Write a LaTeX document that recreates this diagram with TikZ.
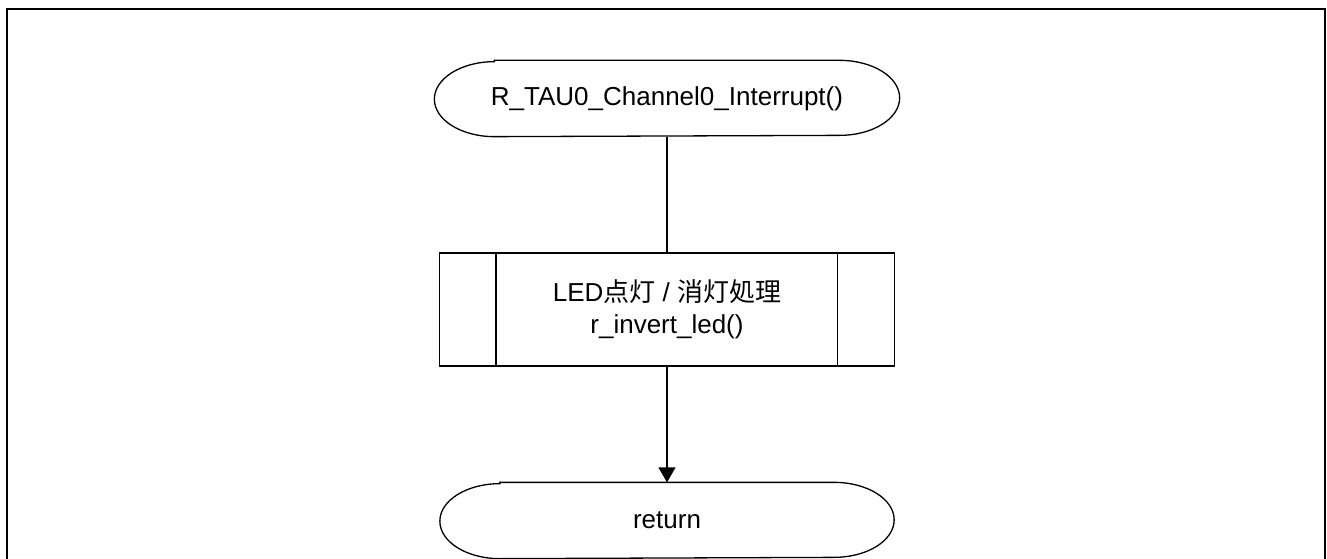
\documentclass[tikz,border=0pt]{standalone}
\usepackage{fontspec}
\setmainfont{Liberation Sans}
\newfontfamily\jpfont{Noto Sans CJK JP}
\usetikzlibrary{arrows.meta}

% terminal outline with elliptic ends: node name, end radius
\newcommand\stadium[2]{%
  \draw[-] ([xshift=#2]#1.north west) -- ([xshift=-#2]#1.north east)
    arc[start angle=90,end angle=-90,x radius=#2,y radius=37.5]
    -- ([xshift=#2]#1.south west)
    arc[start angle=270,end angle=90,x radius=#2,y radius=37.5] -- cycle;}

\begin{document}
\begin{tikzpicture}[x=1pt,y=1pt,->,>={Triangle[width=17pt,length=15pt]},
                    node distance=211pt,line width=1.3pt,
                    font=\fontsize{26}{32}\selectfont]
  \tikzstyle{term}=[minimum height=75pt,inner sep=0pt]
  \tikzstyle{subproc}=[draw,minimum width=455pt,minimum height=113pt,align=center]

  \useasboundingbox (0,0) rectangle (1327,-559);
  \draw[-,line width=2pt] (7,-600) -- (7,-9) -- (1325,-9) -- (1325,-600);

  \node[term,minimum width=464pt] (start) at (667,-98.5) {R\_TAU0\_Channel0\_Interrupt()};
  \node[subproc]                  (led) [below of=start]
    {LED{\jpfont 点灯} / {\jpfont 消灯処理}\\r\_invert\_led()};
  \node[term,minimum width=453pt] (ret) [below of=led] {return};

  \stadium{start}{60}
  \stadium{ret}{60}
  \draw[-] ([xshift=57pt]led.north west) -- ([xshift=57pt]led.south west);
  \draw[-] ([xshift=-58pt]led.north east) -- ([xshift=-58pt]led.south east);

  \path (start) edge[-] (led)
        (led)   edge      (ret);
\end{tikzpicture}
\end{document}
